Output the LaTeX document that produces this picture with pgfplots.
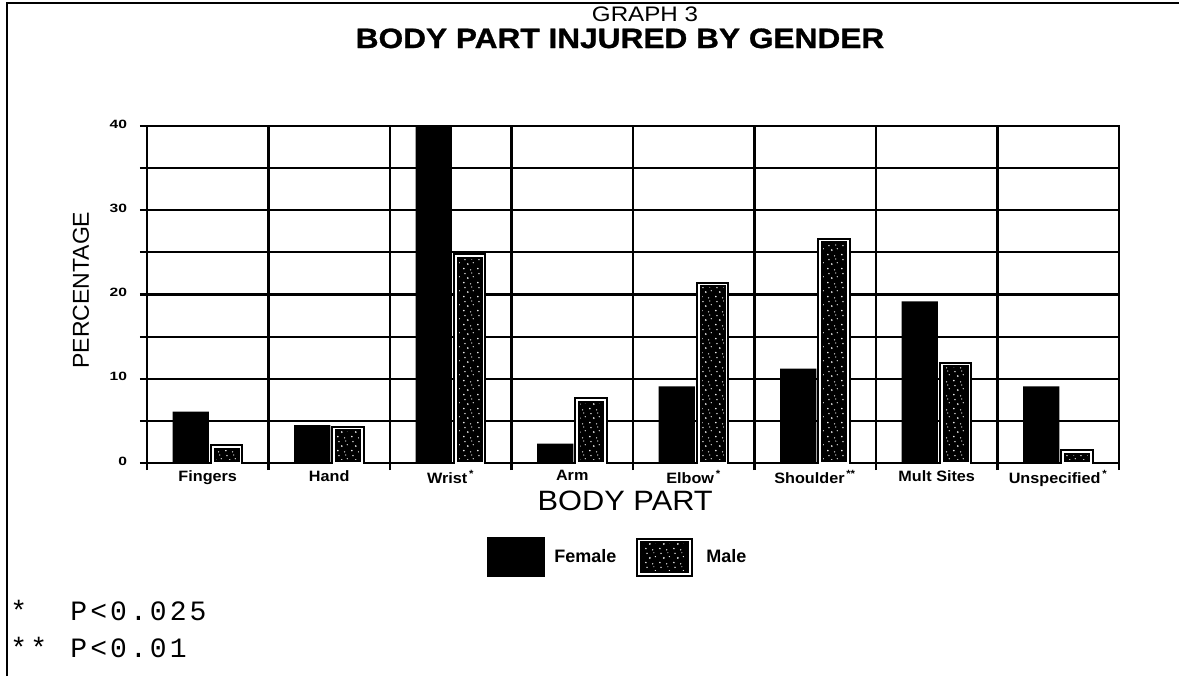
\documentclass[border=0pt]{standalone}
\usepackage{fontspec}
\setmainfont{Liberation Sans}
\newfontfamily\titlef[FakeStretch=1.15]{Liberation Sans}
\newfontfamily\titlebf[FakeStretch=1.13, FakeBold=1]{Liberation Sans Bold}
\newfontfamily\labf[FakeStretch=1.1]{Liberation Sans}
\newfontfamily\tickf[FakeStretch=1.08]{Liberation Sans}
\newfontfamily\numf[FakeStretch=1.3]{Liberation Sans}
\newfontfamily\monof[LetterSpace=11]{Liberation Mono}
\usepackage{pgfplots}
\pgfplotsset{compat=1.18}
\usetikzlibrary{patterns}

\pgfdeclarepatternformonly{speckle}{\pgfpointorigin}{\pgfpoint{7pt}{7pt}}{\pgfpoint{7pt}{7pt}}{%
  \pgfpathcircle{\pgfpoint{1.0pt}{1.3pt}}{0.45pt}%
  \pgfpathcircle{\pgfpoint{4.6pt}{0.6pt}}{0.35pt}%
  \pgfpathcircle{\pgfpoint{3.1pt}{3.7pt}}{0.5pt}%
  \pgfpathcircle{\pgfpoint{6.0pt}{4.4pt}}{0.35pt}%
  \pgfpathcircle{\pgfpoint{1.6pt}{6.1pt}}{0.4pt}%
  \pgfpathcircle{\pgfpoint{5.2pt}{6.4pt}}{0.3pt}%
  \pgfusepath{fill}%
}

\pgfplotstableread{
x female male
0 6.1  1.9
1 4.5  4.1
2 40.0 24.6
3 2.3  7.5
4 9.1  21.2
5 11.2 26.4
6 19.2 11.7
7 9.1  1.3
}\injurydata

\begin{document}
\begin{tikzpicture}
\path[use as bounding box] (0,0) rectangle (589.5pt,-338pt);
\draw[line width=1.25pt] (3.5pt,-338pt) -- (3.5pt,-1.5pt) -- (589.5pt,-1.5pt);
\node[anchor=base, font=\titlef\fontsize{10.5}{12}\selectfont, inner sep=0pt] at (322.5pt,-10.5pt) {GRAPH 3};
\node[anchor=base, font=\titlebf\fontsize{14}{16}\selectfont, inner sep=0pt] at (310pt,-24pt) {BODY PART INJURED BY GENDER};
\begin{axis}[
  at={(73.5pt,-231.5pt)}, anchor=south west,
  width=486pt, height=168.5pt, scale only axis,
  xmin=-0.5, xmax=7.5, ymin=0, ymax=40,
  axis line style={line width=1.2pt, black},
  tick align=outside, tick pos=left,
  major tick length=3.5pt, minor tick length=3.5pt,
  every tick/.style={black, line width=1.1pt},
  xtick={-0.5,0.5,...,7.5}, xticklabel=\empty,
  xmajorgrids,
  extra x ticks={0,1,2,3,4,5,6,7},
  extra x tick labels={Fingers,Hand,Wrist\textsuperscript{\,*},Arm,Elbow\textsuperscript{\,*},Shoulder\textsuperscript{\,**},Mult Sites,Unspecified\textsuperscript{\,*}},
  extra x tick style={major tick length=0pt, grid=none},
  xticklabel style={font=\tickf\bfseries\fontsize{7.5}{8}\selectfont, inner sep=1pt, yshift=-2.5pt},
  ytick={0,10,20,30,40}, yticklabels={0,10,20,30,40},
  minor ytick={5,15,25,35},
  ymajorgrids, yminorgrids,
  yticklabel style={font=\numf\bfseries\fontsize{6}{7}\selectfont, xshift=-3pt, yshift=1pt},
  grid style={black, line width=1.1pt},
  minor grid style={black, line width=1.1pt},
  xlabel={BODY PART},
  xlabel style={at={(axis description cs:0.492,-0.113)}, anchor=center, font=\labf\fontsize{14}{16}\selectfont},
  ylabel={PERCENTAGE},
  ylabel style={at={(axis description cs:-0.068,0.513)}, anchor=center, font=\fontsize{11.5}{13}\selectfont},
  legend columns=2,
  legend style={at={(axis description cs:0.485,-0.279)}, anchor=center, draw=none, fill=none,
    font=\bfseries\fontsize{9}{10}\selectfont,
    /tikz/every even column/.append style={column sep=8pt}},
]
\addplot[ybar, forget plot, bar width=0.30, bar shift=-0.14, fill=black, draw=none]
  table[x=x, y=female] {\injurydata};
\addplot[ybar, forget plot, bar width=0.23, bar shift=0.155,
  preaction={fill=black}, pattern=speckle, pattern color=white,
  draw=black, line width=1pt, double=white, double distance=0.9pt]
  table[x=x, y=male] {\injurydata};
\addlegendimage{legend image code/.code={\fill[black] (0pt,-9.75pt) rectangle (28.5pt,9.75pt);}}
\addlegendentry{\hspace{3pt}Female}
\addlegendimage{legend image code/.code={\draw[preaction={fill=black}, pattern=speckle, pattern color=white, draw=black, line width=1pt, double=white, double distance=0.9pt] (1.45pt,-8.3pt) rectangle (27pt,8.3pt);}}
\addlegendentry{\hspace{4.5pt}Male}
\end{axis}
\node[anchor=base west, font=\monof\fontsize{14}{16}\selectfont, inner sep=0pt] at (5pt,-310pt) {*};
\node[anchor=base west, font=\monof\fontsize{14}{16}\selectfont, inner sep=0pt] at (35pt,-310pt) {P<0.025};
\node[anchor=base west, font=\monof\fontsize{14}{16}\selectfont, inner sep=0pt] at (5pt,-328.5pt) {**};
\node[anchor=base west, font=\monof\fontsize{14}{16}\selectfont, inner sep=0pt] at (35pt,-328.5pt) {P<0.01};
\end{tikzpicture}
\end{document}
